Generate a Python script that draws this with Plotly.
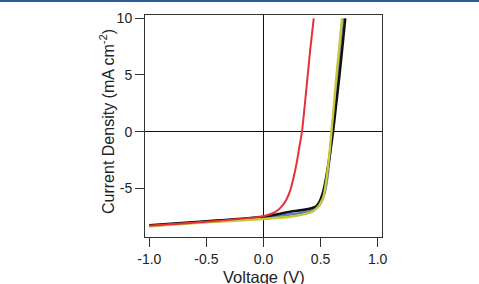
import plotly.graph_objects as go

# Voltage (V) / current density (mA cm^-2)
red_v = [-1.0, -0.5, 0.0, 0.05, 0.1, 0.15, 0.2, 0.235, 0.26, 0.29, 0.31, 0.337, 0.36, 0.386, 0.41, 0.44]
red_j = [-8.3, -7.95, -7.45, -7.3, -7.1, -6.7, -6.0, -5.15, -4.2, -2.8, -1.6, 0.0, 2.2, 4.85, 7.3, 10.0]

blue_v = [-1.0, -0.5, 0.0, 0.234, 0.35, 0.43, 0.48, 0.515, 0.535, 0.56, 0.582, 0.601, 0.623, 0.645, 0.67, 0.695]
blue_j = [-8.3, -7.95, -7.6, -7.3, -7.15, -6.95, -6.6, -6.0, -5.4, -4.0, -2.0, 0.0, 2.4, 4.85, 7.4, 10.0]

black_v = [-1.0, -0.5, 0.0, 0.234, 0.35, 0.42, 0.46, 0.49, 0.52, 0.55, 0.58, 0.609, 0.636, 0.664, 0.69, 0.716]
black_j = [-8.25, -7.9, -7.5, -7.06, -6.9, -6.75, -6.6, -6.2, -5.4, -4.0, -2.1, 0.0, 2.4, 4.85, 7.4, 10.0]

yellow_v = [-1.0, -0.5, 0.0, 0.234, 0.35, 0.43, 0.48, 0.51, 0.526, 0.55, 0.575, 0.595, 0.617, 0.638, 0.663, 0.688]
yellow_j = [-8.35, -8.0, -7.7, -7.5, -7.3, -7.05, -6.6, -6.1, -5.7, -4.3, -2.2, 0.0, 2.4, 4.85, 7.4, 10.0]

x_ticks = [-1.0, -0.5, 0.0, 0.5, 1.0]
x_ticktext = ["-1.0", "-0.5", "0.0", "0.5", "1.0"]
y_ticks = [-5, 0, 5, 10]
y_ticktext = ["-5", "0", "5", "10"]
x_title = "Voltage (V)"
y_title = "Current Density (mA cm<sup>-2</sup>)"

fig = go.Figure()
series = [
    (blue_v, blue_j, "#5b7fc0", 2.5),
    (black_v, black_j, "#111111", 2.6),
    (yellow_v, yellow_j, "#c8c83a", 2.4),
    (red_v, red_j, "#e8303c", 2.0),
]
for v, j, c, w in series:
    fig.add_trace(go.Scatter(x=v, y=j, mode="lines",
                             line=dict(color=c, width=w, shape="spline", smoothing=0.6),
                             showlegend=False, hoverinfo="skip"))

W, H = 479, 284
L, R, T, B = 145, 97, 15, 47
pw, ph = W - L - R, H - T - B

fig.add_shape(type="line", xref="paper", yref="paper",
              x0=-L / pw, x1=(W - L) / pw, y0=1 + (T - 1) / ph, y1=1 + (T - 1) / ph,
              line=dict(color="#2a5a9a", width=2))

FONT = "Liberation Sans, Arial"
axis_common = dict(
    showline=True, linecolor="#333333", linewidth=1, mirror=True,
    ticks="outside", ticklen=9, tickcolor="#333333", tickwidth=1,
    showgrid=False, zeroline=True, zerolinecolor="#111111", zerolinewidth=1,
    automargin=False,
    tickfont=dict(family=FONT, size=14, color="#222222"),
)

fig.add_annotation(text=x_title, xref="paper", yref="paper",
                   x=(264 - L) / pw, y=1 - (277 - T) / ph,
                   xanchor="center", yanchor="middle", showarrow=False,
                   font=dict(family=FONT, size=16.5, color="#222222"))
fig.add_annotation(text=y_title, xref="paper", yref="paper",
                   x=(107 - L) / pw, y=1 - (122 - T) / ph, textangle=-90,
                   xanchor="center", yanchor="middle", showarrow=False,
                   font=dict(family=FONT, size=16, color="#222222"))

fig.update_layout(
    width=W, height=H,
    margin=dict(l=L, r=R, t=T, b=B),
    paper_bgcolor="white", plot_bgcolor="white",
    xaxis=dict(range=[-1.038, 1.038], tickvals=x_ticks, ticktext=x_ticktext,
               ticklabelstandoff=0, **axis_common),
    yaxis=dict(range=[-9.29, 10.29], tickvals=y_ticks, ticktext=y_ticktext,
               **axis_common),
)

fig.write_html("out.html")
